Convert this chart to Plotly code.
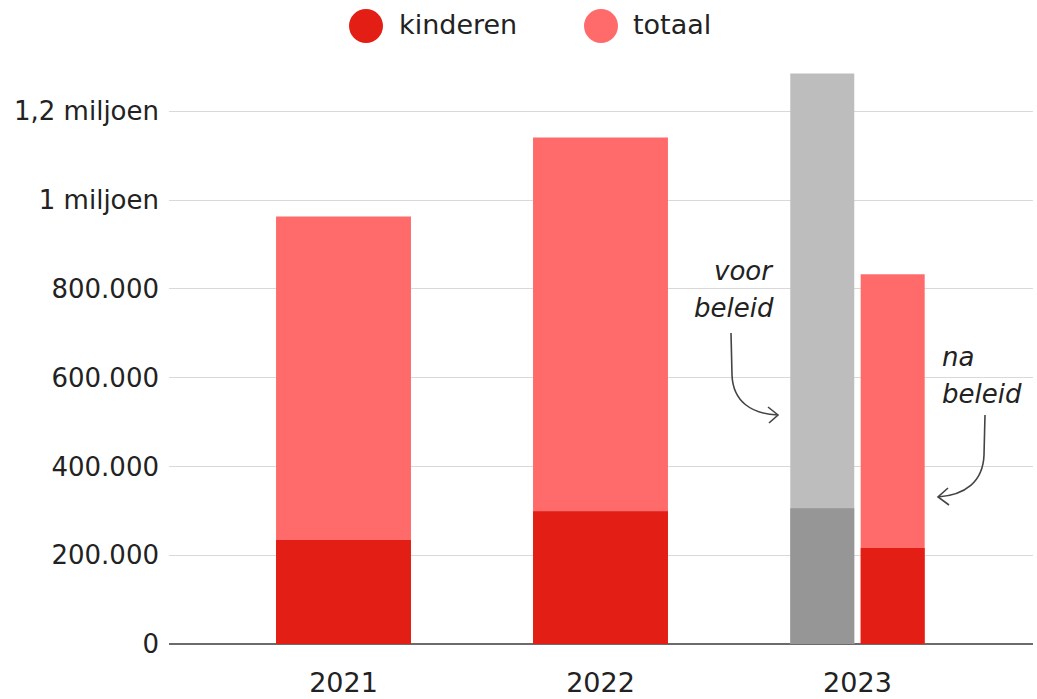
import plotly.graph_objects as go

# Data
years = ["2021", "2022", "2023"]
kinderen = [234000, 299000, 216000]          # children (2023: after policy)
totaal = [963000, 1141000, 833000]           # total (2023: after policy)
voor_beleid_kinderen = 306000                # 2023 before policy
voor_beleid_totaal = 1285000

y_ticks = [0, 200000, 400000, 600000, 800000, 1000000, 1200000]
y_ticktext = ["0", "200.000", "400.000", "600.000", "800.000", "1 miljoen", "1,2 miljoen"]

# Colours
RED = "#E31E14"
LIGHT_RED = "#FF6B6B"
GREY = "#BDBDBD"
DARK_GREY = "#969696"
TEXT = "#222222"

FONT = "DejaVu Sans"
W, H = 1037, 699
M_L, M_R, M_T, M_B = 169, 4, 58, 55
X_RANGE = [-0.679, 2.683]
Y_RANGE = [0, 1320000]
plot_w = W - M_L - M_R
plot_h = H - M_T - M_B


def dx(px):
    return X_RANGE[0] + (px - M_L) / plot_w * (X_RANGE[1] - X_RANGE[0])


def dy(py):
    return Y_RANGE[0] + (H - M_B - py) / plot_h * (Y_RANGE[1] - Y_RANGE[0])


def px_paper_x(px):
    return (px - M_L) / plot_w


def px_paper_y(py):
    return (H - M_B - py) / plot_h


wide = 0.525
narrow = 0.249
off = 0.137

fig = go.Figure()
# 2021 and 2022: total behind, children in front
fig.add_bar(x=[0, 1], y=totaal[:2], width=wide, marker_color=LIGHT_RED, name="totaal")
fig.add_bar(x=[0, 1], y=kinderen[:2], width=wide, marker_color=RED, name="kinderen")
# 2023 before policy (grey)
fig.add_bar(x=[2 - off], y=[voor_beleid_totaal], width=narrow, marker_color=GREY, name="voor beleid")
fig.add_bar(x=[2 - off], y=[voor_beleid_kinderen], width=narrow, marker_color=DARK_GREY, name="voor beleid kinderen")
# 2023 after policy
fig.add_bar(x=[2 + off], y=[totaal[2]], width=narrow, marker_color=LIGHT_RED, name="na beleid")
fig.add_bar(x=[2 + off], y=[kinderen[2]], width=narrow, marker_color=RED, name="na beleid kinderen")

fig.update_traces(marker_line_width=0, hoverinfo="skip")

shapes = []
# Curved arrows pointing at the two 2023 bars
arrow_line = dict(color="#444444", width=1.6)
p1 = (f"M {dx(731)},{dy(333)} L {dx(732)},{dy(375)} "
      f"C {dx(733)},{dy(402)} {dx(752)},{dy(414)} {dx(778)},{dy(415)}")
h1 = f"M {dx(768)},{dy(407)} L {dx(778)},{dy(415)} L {dx(769)},{dy(423)}"
p2 = (f"M {dx(985)},{dy(415)} L {dx(984)},{dy(455)} "
      f"C {dx(983)},{dy(482)} {dx(965)},{dy(495)} {dx(938)},{dy(497)}")
h2 = f"M {dx(948)},{dy(488)} L {dx(938)},{dy(497)} L {dx(949)},{dy(505)}"
for p in (p1, h1, p2, h2):
    shapes.append(dict(type="path", path=p, xref="x", yref="y", line=arrow_line))

# Legend circles
for cx, col in ((366, RED), (601, LIGHT_RED)):
    r = 17
    shapes.append(dict(type="circle", xref="paper", yref="paper",
                       x0=px_paper_x(cx - r), x1=px_paper_x(cx + r),
                       y0=px_paper_y(26 + r), y1=px_paper_y(26 - r),
                       fillcolor=col, line=dict(width=0)))

annotations = []
for text, lx in (("kinderen", 397), ("totaal", 631)):
    annotations.append(dict(text=text, xref="paper", yref="paper",
                            x=px_paper_x(lx), y=px_paper_y(25), xanchor="left", yanchor="middle",
                            showarrow=False, font=dict(family=FONT, size=27, color=TEXT)))

italic = dict(family=FONT, size=26, color=TEXT, style="italic")
annotations += [
    dict(text="voor", x=dx(776), y=dy(271), xanchor="right", yanchor="middle", showarrow=False, font=italic),
    dict(text="beleid", x=dx(776), y=dy(308), xanchor="right", yanchor="middle", showarrow=False, font=italic),
    dict(text="na", x=dx(940), y=dy(357), xanchor="left", yanchor="middle", showarrow=False, font=italic),
    dict(text="beleid", x=dx(940), y=dy(394), xanchor="left", yanchor="middle", showarrow=False, font=italic),
]

fig.update_layout(
    width=W, height=H,
    margin=dict(l=M_L, r=M_R, t=M_T, b=M_B, pad=0, autoexpand=False),
    barmode="overlay",
    showlegend=False,
    plot_bgcolor="white", paper_bgcolor="white",
    font=dict(family=FONT, size=26, color=TEXT),
    shapes=shapes,
    annotations=annotations,
)
fig.update_xaxes(range=X_RANGE, tickvals=[0, 1, 2], ticktext=years, showgrid=False,
                 zeroline=False, showline=False, ticks="", ticklabelstandoff=20,
                 tickfont=dict(size=27, color=TEXT), fixedrange=True, automargin=False)
fig.update_yaxes(range=Y_RANGE, tickvals=y_ticks, ticktext=y_ticktext, showgrid=True,
                 gridcolor="#D9D9D9", gridwidth=1.2, zeroline=True, zerolinecolor="#6b6b6b",
                 zerolinewidth=2, showline=False, ticks="", ticklabelstandoff=9,
                 tickfont=dict(size=26, color=TEXT), fixedrange=True, automargin=False)

fig.write_html("out.html", config={"displayModeBar": False})
